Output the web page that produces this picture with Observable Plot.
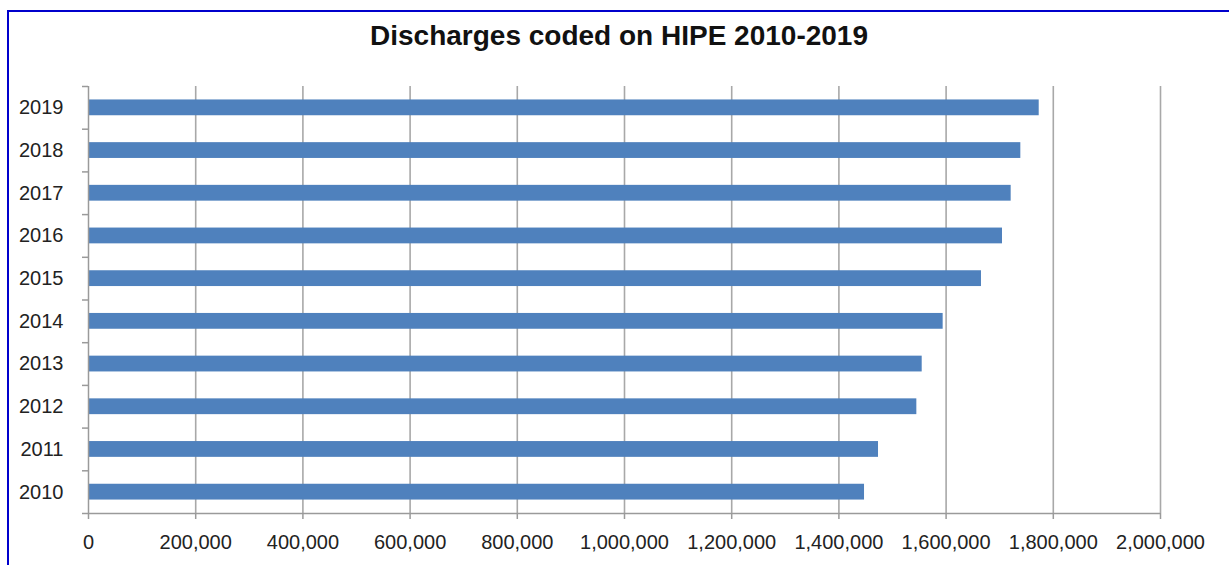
<!DOCTYPE html>
<html>
<head>
<meta charset="utf-8">
<script src="https://cdn.jsdelivr.net/npm/d3@7"></script>
<script src="https://cdn.jsdelivr.net/npm/@observablehq/plot@0.6"></script>
<style>
  html, body { margin: 0; padding: 0; background: #fff; }
  #wrap { position: relative; width: 1229px; height: 565px; overflow: hidden; }
  #frame { position: absolute; left: 7px; top: 10px; width: 1240px; height: 600px;
           border-left: 2px solid #0000cc; border-top: 2px solid #0000cc; }
  #title { position: absolute; left: 0; width: 1238px; top: 20px; text-align: center;
           font-family: "Liberation Sans", Arial, sans-serif; font-weight: bold; font-size: 28px;
           color: #111; }
  #chart { position: absolute; left: 0; top: 0; }
</style>
</head>
<body>
<div id="wrap">
  <div id="frame"></div>
  <div id="chart"></div>
  <div id="title">Discharges coded on HIPE 2010-2019</div>
</div>
<script>
const years = ["2010","2011","2012","2013","2014","2015","2016","2017","2018","2019"];
const discharges = [1447800, 1473900, 1545400, 1555400, 1594500, 1666000, 1705200, 1721400, 1739400, 1773700];
const xTicks = [0, 200000, 400000, 600000, 800000, 1000000, 1200000, 1400000, 1600000, 1800000, 2000000];

const data = years.map((y, i) => ({year: y, value: discharges[i]}));
const W = 1229, H = 565, mT = 86, mB = 52, mL = 88, mR = 69;
const step = (H - mT - mB) / years.length;
const yDomain = years.slice().reverse();

const plot = Plot.plot({
  width: W, height: H,
  marginTop: mT, marginBottom: mB, marginLeft: mL, marginRight: mR,
  style: {fontFamily: "Liberation Sans, Arial, sans-serif", fontSize: "20px", color: "#222", background: "transparent"},
  x: {domain: [0, 2000000], ticks: xTicks, tickFormat: d3.format(","), label: null},
  y: {domain: yDomain, paddingInner: 0.63, paddingOuter: 0.315, round: false, label: null},
  marks: [
    Plot.ruleX(xTicks.slice(1), {stroke: "#a8a8a8", strokeWidth: 1.6}),
    Plot.barX(data, {y: "year", x: "value", fill: "#4f81bd"}),
    Plot.ruleX([0], {stroke: "#9a9a9a", strokeWidth: 1.5}),
    Plot.ruleY(years, {y: d => d, x1: 0, x2: 0, insetLeft: -6, dy: -step / 2, stroke: "#9a9a9a", strokeWidth: 1.5}),
    Plot.ruleY(["2010"], {y: d => d, x1: 0, x2: 2000000, insetLeft: -6, dy: step / 2, stroke: "#9a9a9a", strokeWidth: 1.5}),
    Plot.axisX({ticks: xTicks, tickFormat: d3.format(","), tickSize: 6, tickPadding: 15, stroke: "#9a9a9a", strokeWidth: 1.5, fill: "#222", label: null}),
    Plot.axisY({tickSize: 0, tickPadding: 25, fill: "#222", label: null})
  ]
});
document.getElementById("chart").appendChild(plot);
</script>
</body>
</html>
